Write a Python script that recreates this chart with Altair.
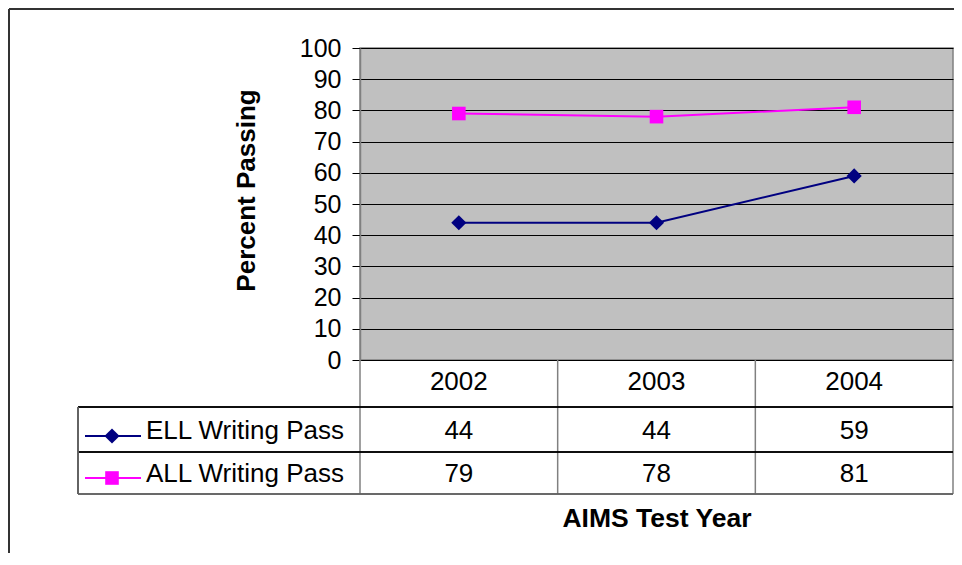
import altair as alt
import pandas as pd

# ---- data ----
years = [2002, 2003, 2004]
ell_pass = [44, 44, 59]
all_pass = [79, 78, 81]
series_names = ["ELL Writing Pass", "ALL Writing Pass"]
series_colors = ["#000080", "#FF00FF"]
series_shapes = ["diamond", "square"]
series_sizes = [230, 185]
y_ticks = list(range(0, 101, 10))
col_edges = [2001.5, 2002.5, 2003.5, 2004.5]

W, H = 593, 312
FONT = "Liberation Sans"

long = pd.DataFrame({
    "year": years * 2,
    "value": ell_pass + all_pass,
    "series": [series_names[0]] * 3 + [series_names[1]] * 3,
})

x_scale = alt.Scale(domain=[2001.5, 2004.5], nice=False, zero=False)
y_scale = alt.Scale(domain=[0, 100], nice=False)
color_scale = alt.Scale(domain=series_names, range=series_colors)
shape_scale = alt.Scale(domain=series_names, range=series_shapes)
size_scale = alt.Scale(domain=series_names, range=series_sizes)


def x_axis():
    return alt.Axis(title="AIMS Test Year", labels=False, ticks=False, grid=False,
                    domain=True, domainColor="#000000", domainWidth=1,
                    titleFont=FONT, titleFontSize=26.5, titleFontWeight="bold",
                    titleColor="#000000", titleY=166, titleBaseline="alphabetic")


def y_axis():
    return alt.Axis(title="Percent Passing", values=y_ticks, tickCount=11,
                    labelOverlap=False, grid=True,
                    gridColor="#000000", gridWidth=1, gridOpacity=1,
                    domainColor="#808080", domainWidth=1.5,
                    tickColor="#000000", tickSize=8, tickWidth=1,
                    labelFont=FONT, labelFontSize=25, labelColor="#000000",
                    labelPadding=11,
                    titleFont=FONT, titleFontSize=26, titleFontWeight="bold",
                    titleColor="#000000", titleX=-106, titleY=142,
                    titleAlign="center", titleBaseline="alphabetic")


lines = alt.Chart(long).mark_line(strokeWidth=2).encode(
    x=alt.X("year:Q", scale=x_scale, axis=x_axis()),
    y=alt.Y("value:Q", scale=y_scale, axis=y_axis()),
    color=alt.Color("series:N", scale=color_scale, legend=None),
)

points = alt.Chart(long).mark_point(filled=True, opacity=1).encode(
    x=alt.X("year:Q", scale=x_scale, axis=x_axis()),
    y=alt.Y("value:Q", scale=y_scale, axis=y_axis()),
    color=alt.Color("series:N", scale=color_scale, legend=None),
    shape=alt.Shape("series:N", scale=shape_scale, legend=None),
    size=alt.Size("series:N", scale=size_scale, legend=None),
)

# ---- data table below the plot ----
edges_df = pd.DataFrame({"edge": col_edges})
vlines = alt.Chart(edges_df).mark_rule(color="#808080", strokeWidth=1.5).encode(
    x=alt.X("edge:Q", scale=x_scale, axis=x_axis()),
    y=alt.value(H), y2=alt.value(446),
)

hline_rows = [(359, "#000000"), (404, "#000000"), (446, "#606060")]
hlines = [
    alt.Chart(edges_df).mark_rule(color=c, strokeWidth=1.2).encode(
        x=alt.value(-282), x2=alt.value(W), y=alt.value(yy))
    for yy, c in hline_rows
]
left_border = alt.Chart(edges_df).mark_rule(color="#606060", strokeWidth=1.2).encode(
    x=alt.value(-282), y=alt.value(359), y2=alt.value(446))

header_df = pd.DataFrame({"year": years})
header = alt.Chart(header_df).mark_text(
    font=FONT, fontSize=26, color="#000000", baseline="alphabetic", align="center"
).encode(
    x=alt.X("year:Q", scale=x_scale, axis=x_axis()),
    y=alt.value(342),
    text=alt.Text("year:Q", format="d"),
)

row_text_y = [391, 434]
row_sym_y = [388, 430]
table_layers = []
for i, name in enumerate(series_names):
    vals = ell_pass if i == 0 else all_pass
    rdf = pd.DataFrame({"year": years, "value": vals, "series": [name] * 3})
    table_layers.append(
        alt.Chart(rdf).mark_text(font=FONT, fontSize=26, color="#000000",
                                 baseline="alphabetic", align="center").encode(
            x=alt.X("year:Q", scale=x_scale, axis=x_axis()),
            y=alt.value(row_text_y[i]),
            text=alt.Text("value:Q"),
        )
    )
    ldf = pd.DataFrame({"series": [name]})
    table_layers.append(
        alt.Chart(ldf).mark_text(font=FONT, fontSize=26, color="#000000",
                                 baseline="alphabetic", align="left").encode(
            x=alt.value(-214), y=alt.value(row_text_y[i]), text="series:N")
    )
    table_layers.append(
        alt.Chart(ldf).mark_rule(strokeWidth=2).encode(
            x=alt.value(-275), x2=alt.value(-219), y=alt.value(row_sym_y[i]),
            color=alt.Color("series:N", scale=color_scale, legend=None))
    )
    table_layers.append(
        alt.Chart(ldf).mark_point(filled=True, opacity=1).encode(
            x=alt.value(-248), y=alt.value(row_sym_y[i]),
            color=alt.Color("series:N", scale=color_scale, legend=None),
            shape=alt.Shape("series:N", scale=shape_scale, legend=None),
            size=alt.Size("series:N", scale=size_scale, legend=None))
    )

# ---- outer chart-area frame (left and top edges visible) ----
frame_left = alt.Chart(edges_df).mark_rule(color="#333333", strokeWidth=2).encode(
    x=alt.value(-351), y=alt.value(-39), y2=alt.value(505))
frame_top = alt.Chart(edges_df).mark_rule(color="#333333", strokeWidth=2).encode(
    x=alt.value(-351), x2=alt.value(594), y=alt.value(-39))

chart = alt.layer(
    lines, points, vlines, *hlines, left_border, header, *table_layers,
    frame_left, frame_top,
).properties(
    width=W, height=H,
    autosize=alt.AutoSizeParams(type="none"),
    padding={"left": 352, "top": 40, "right": 1, "bottom": 193},
    background="#FFFFFF",
).configure_view(
    fill="#C0C0C0", stroke="#808080", strokeWidth=1.5,
)

chart.save("out.html", embed_options={"renderer": "svg", "actions": False})
